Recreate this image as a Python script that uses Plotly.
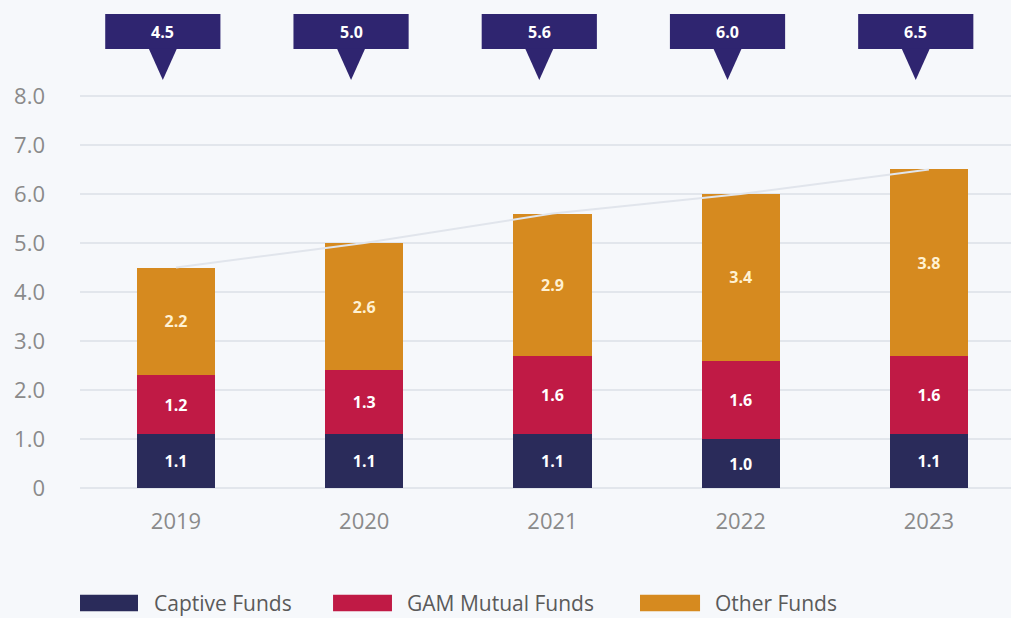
import plotly.graph_objects as go

years = ["2019", "2020", "2021", "2022", "2023"]
captive = [1.1, 1.1, 1.1, 1.0, 1.1]
gam_mutual = [1.2, 1.3, 1.6, 1.6, 1.6]
other = [2.2, 2.6, 2.9, 3.4, 3.8]
totals = [4.5, 5.0, 5.6, 6.0, 6.5]
y_ticks = [0, 1, 2, 3, 4, 5, 6, 7, 8]
y_ticktext = ["0", "1.0", "2.0", "3.0", "4.0", "5.0", "6.0", "7.0", "8.0"]
series_names = ["Captive Funds", "GAM Mutual Funds", "Other Funds"]

C_CAPTIVE = "#2a2b5a"
C_GAM = "#c01a45"
C_OTHER = "#d68a1f"
C_CALLOUT = "#2f2570"
BG = "#f6f8fb"
FONT = "Open Sans"

x_idx = list(range(len(years)))

fig = go.Figure()

# faint trend line joining totals
fig.add_trace(go.Scatter(x=x_idx, y=totals, mode="lines",
                         line=dict(color="#e1e5ec", width=2),
                         hoverinfo="skip", showlegend=False))

for vals, name, col, tcol in [(captive, series_names[0], C_CAPTIVE, "#ffffff"),
                              (gam_mutual, series_names[1], C_GAM, "#ffffff"),
                              (other, series_names[2], C_OTHER, "#fff1d2")]:
    fig.add_trace(go.Bar(
        x=x_idx, y=vals, name=name,
        marker=dict(color=col, line=dict(width=0)),
        width=0.415,
        text=[f"{v:.1f}" for v in vals],
        textposition="inside", insidetextanchor="middle",
        textfont=dict(family=FONT, size=16, color=tcol, weight="bold"),
        constraintext="none",
        showlegend=False,
    ))

# callouts with totals
shapes = []
annotations = []
off = -0.07
hw = 0.306
tw = 0.075
y_box_top, y_box_bot, y_tip = 9.673, 8.959, 8.327
for i, t in zip(x_idx, totals):
    c = i + off
    shapes.append(dict(type="rect", xref="x", yref="y",
                       x0=c - hw, x1=c + hw, y0=y_box_bot, y1=y_box_top,
                       fillcolor=C_CALLOUT, line=dict(width=0), layer="above"))
    shapes.append(dict(type="path", xref="x", yref="y",
                       path=f"M {c - tw},{y_box_bot + 0.01} L {c + tw},{y_box_bot + 0.01} L {c},{y_tip} Z",
                       fillcolor=C_CALLOUT, line=dict(width=0), layer="above"))
    annotations.append(dict(x=c, y=(y_box_top + y_box_bot) / 2, xref="x", yref="y",
                            text=f"{t:.1f}", showarrow=False,
                            font=dict(family=FONT, size=16, color="#ffffff", weight="bold")))

# custom legend
legend_items = [(series_names[0], C_CAPTIVE, 0.0, 0.0623, 0.0773),
                (series_names[1], C_GAM, 0.2718, 0.3351, 0.3491),
                (series_names[2], C_OTHER, 0.6015, 0.6660, 0.6799)]
ly = -0.2357
for name, col, x0, x1, xt in legend_items:
    shapes.append(dict(type="rect", xref="paper", yref="paper",
                       x0=x0, x1=x1, y0=ly - 0.017, y1=ly + 0.017,
                       fillcolor=col, line=dict(width=0)))
    annotations.append(dict(x=xt, y=ly, xref="paper", yref="paper",
                            text=name, showarrow=False, xanchor="left", yanchor="middle",
                            font=dict(family=FONT, size=21, color="#5a5a5a")))

fig.update_layout(
    width=1011, height=618,
    barmode="stack",
    paper_bgcolor=BG, plot_bgcolor=BG,
    margin=dict(l=80, r=0, t=0, b=130),
    shapes=shapes, annotations=annotations,
    showlegend=False,
    font=dict(family=FONT),
)
fig.update_xaxes(range=[-0.51, 4.436], tickvals=x_idx, ticktext=years,
                 showgrid=False, zeroline=False, showline=False, ticks="",
                 tickfont=dict(family=FONT, size=22, color="#8a8a8a"),
                 ticklabelstandoff=18)
fig.update_yaxes(range=[0, 9.959], tickvals=y_ticks, ticktext=y_ticktext,
                 showgrid=True, gridcolor="#e2e6ec", gridwidth=1.5,
                 zeroline=True, zerolinecolor="#e2e6ec", zerolinewidth=1.5,
                 showline=False, ticks="",
                 tickfont=dict(family=FONT, size=22, color="#8a8a8a"),
                 ticklabelstandoff=34)

fig.write_html("out.html", config={"displayModeBar": False},
               post_script="document.body.style.margin='0';document.body.style.overflow='hidden';")
